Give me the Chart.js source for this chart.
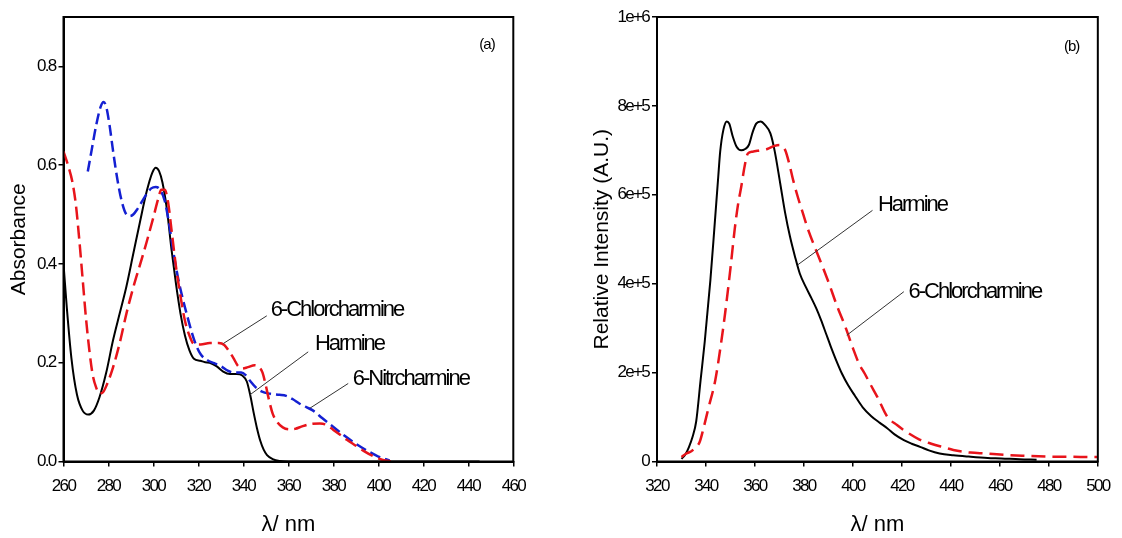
<!DOCTYPE html>
<html>
<head>
<meta charset="utf-8">
<script src="https://cdn.jsdelivr.net/npm/chart.js@4.4.1/dist/chart.umd.min.js"></script>
<style>
  html, body { margin: 0; padding: 0; background: #fff; }
  #wrap { position: relative; width: 1122px; height: 538px; overflow: hidden; }
  canvas { position: absolute; top: 0; }
  #absChart { left: 0; }
  #fluoChart { left: 561px; }
</style>
</head>
<body>
<div id="wrap">
  <canvas id="absChart" width="561" height="538"></canvas>
  <canvas id="fluoChart" width="561" height="538"></canvas>
</div>
<script>
// ---- (a) absorbance spectra ----
const harmineAbsNm = [260, 261.5, 263.5, 266, 268.5, 271, 273.5, 276, 279, 282, 285, 288, 291, 294, 297, 299.5, 301, 302.5, 304, 306, 308, 310, 312, 314, 316, 318, 320.8, 323, 325, 328, 331, 334, 337, 339.5, 341.5, 343, 344.5, 346, 347.5, 349, 350.5, 353, 356, 360, 400, 445];
const harmineAbs = [0.400, 0.310, 0.210, 0.135, 0.103, 0.095, 0.103, 0.130, 0.180, 0.245, 0.300, 0.355, 0.420, 0.485, 0.547, 0.585, 0.595, 0.588, 0.565, 0.510, 0.430, 0.360, 0.300, 0.255, 0.225, 0.208, 0.204, 0.201, 0.200, 0.193, 0.182, 0.177, 0.177, 0.174, 0.162, 0.135, 0.100, 0.068, 0.042, 0.024, 0.013, 0.005, 0.001, 0, 0, 0];

const chlorAbsNm = [260, 262, 264, 265.5, 267, 268.5, 270, 271.5, 273, 274.5, 276, 277.5, 279.5, 282, 285, 288, 291, 294, 297, 300, 302, 303.5, 305, 306.5, 308, 310, 312, 314, 316, 318, 321, 325, 329, 331.5, 333.5, 335.5, 337.5, 339.5, 342, 345, 347, 348.5, 350, 351.5, 353, 355, 357.5, 360.5, 363, 366, 370, 374, 377, 380, 383, 386, 390, 394, 398, 402, 406];
const chlorAbs = [0.628, 0.600, 0.565, 0.520, 0.450, 0.370, 0.290, 0.225, 0.175, 0.150, 0.138, 0.140, 0.158, 0.190, 0.240, 0.300, 0.352, 0.398, 0.445, 0.495, 0.530, 0.550, 0.550, 0.525, 0.470, 0.395, 0.335, 0.285, 0.255, 0.238, 0.237, 0.240, 0.240, 0.236, 0.224, 0.210, 0.194, 0.188, 0.191, 0.195, 0.191, 0.180, 0.153, 0.122, 0.097, 0.080, 0.069, 0.065, 0.066, 0.071, 0.076, 0.077, 0.074, 0.064, 0.054, 0.044, 0.032, 0.020, 0.010, 0.003, 0];

const nitroAbsNm = [270.8, 272.5, 274.5, 276.5, 277.8, 279, 280.5, 282, 284, 286, 288, 289.5, 291, 293, 295, 297, 299, 301, 303, 305, 307, 309, 311, 313, 315, 317, 319, 321, 324, 327, 330, 333, 336, 339, 341, 343, 345.5, 348, 352, 356, 359, 362, 365, 368, 371, 375, 380, 385, 390, 395, 400, 405];
const nitroAbs = [0.587, 0.630, 0.680, 0.718, 0.728, 0.718, 0.680, 0.630, 0.570, 0.525, 0.500, 0.497, 0.500, 0.512, 0.527, 0.542, 0.553, 0.556, 0.550, 0.528, 0.480, 0.420, 0.370, 0.330, 0.295, 0.262, 0.235, 0.217, 0.205, 0.199, 0.193, 0.184, 0.180, 0.180, 0.175, 0.163, 0.150, 0.142, 0.137, 0.135, 0.133, 0.126, 0.117, 0.110, 0.103, 0.088, 0.070, 0.052, 0.036, 0.022, 0.010, 0.002];

// ---- (b) emission spectra ----
const harmineEmNm = [330, 331.5, 333, 334.5, 336, 337.8, 339.5, 341.8, 343.5, 345, 345.8, 347.1, 348.5, 349.5, 351, 352.5, 354.4, 356, 357.5, 359, 360.5, 362.3, 364, 366.3, 368, 370.3, 372.3, 374.3, 376.3, 378.3, 381, 383, 385, 387, 389, 391, 393, 395.5, 398, 400.8, 404, 407.5, 411, 414, 417, 420.8, 424, 427.4, 431, 435.4, 441, 447.3, 455, 460.6, 468, 475];
const harmineEm = [6000, 15000, 32000, 55000, 90000, 183000, 270000, 408000, 530000, 640000, 697000, 746000, 765000, 760000, 730000, 708000, 700000, 703000, 712000, 740000, 760000, 765000, 758000, 738000, 700000, 626000, 560000, 506000, 462000, 423000, 390000, 368000, 345000, 318000, 288000, 258000, 230000, 198000, 172000, 148000, 122000, 102000, 87000, 75000, 61000, 48000, 40000, 33000, 25000, 18000, 14000, 11000, 8000, 7000, 5000, 4000];

const chlorEmNm = [330, 332, 334, 336, 337.5, 339, 341, 343.8, 346, 347.8, 350, 351.7, 353, 354.4, 355.8, 357.1, 359, 362, 365, 368, 370, 372.3, 374, 375.6, 377.5, 379.6, 382, 384.9, 387.5, 390.2, 393.5, 396.9, 400, 402.5, 404.8, 407, 410, 414, 418, 422, 427, 432, 437, 441, 448, 454, 462, 470, 480, 490, 500];
const chlorEm = [10000, 18000, 23000, 32000, 45000, 75000, 120000, 183000, 260000, 333000, 435000, 521000, 575000, 618000, 665000, 693000, 697000, 700000, 703000, 710000, 712000, 701000, 670000, 633000, 595000, 558000, 517000, 476000, 440000, 401000, 350000, 303000, 255000, 220000, 198000, 175000, 145000, 101000, 82000, 66000, 50000, 40000, 32000, 26000, 20000, 18000, 15000, 13000, 11000, 10500, 10000];

// labels with leader lines, anchored in data units
const absNotes = [
  { text: '6-Chlorcharmine', at: [352.1, 0.307], from: [350.4, 0.295], to: [331.1, 0.239] },
  { text: 'Harmine', at: [371.8, 0.238], from: [368.8, 0.222], to: [342.9, 0.135] },
  { text: '6-Nitrcharmine', at: [388.6, 0.167], from: [386.6, 0.158], to: [369.6, 0.108] },
  { text: '(a)', at: [448.3, 0.843], small: true }
];
const fluoNotes = [
  { text: 'Harmine', at: [410.2, 578000], from: [408.0, 565000], to: [377.6, 443000] },
  { text: '6-Chlorcharmine', at: [422.7, 382000], from: [420.8, 382000], to: [397.5, 284000] },
  { text: '(b)', at: [489.3, 932000], small: true }
];

const sans = "'Liberation Sans', Arial, sans-serif";

function pts(xs, ys) {
  return xs.map((x, i) => ({ x: x, y: ys[i] }));
}

// tick labels are drawn after the datasets (ticks.z = 1); squeeze them like the original
const squeezePlugin = {
  id: 'squeeze',
  afterDatasetsDraw(chart) {
    chart.ctx.letterSpacing = '-1.7px';
  },
  afterDraw(chart) {
    chart.ctx.letterSpacing = '0px';
  }
};

// box around the plot area
const framePlugin = {
  id: 'frame',
  afterDraw(chart) {
    const { ctx, chartArea: a } = chart;
    ctx.save();
    ctx.strokeStyle = '#000';
    ctx.lineWidth = 2;
    ctx.strokeRect(a.left, a.top, a.right - a.left, a.bottom - a.top);
    ctx.restore();
  }
};

// text labels + thin leader lines
const notesPlugin = {
  id: 'notes',
  afterDraw(chart, args, opts) {
    const { ctx } = chart;
    const xs = chart.scales.x, ys = chart.scales.y;
    ctx.save();
    (opts.items || []).forEach(n => {
      if (n.from) {
        ctx.strokeStyle = '#333';
        ctx.lineWidth = 1;
        ctx.beginPath();
        ctx.moveTo(xs.getPixelForValue(n.from[0]), ys.getPixelForValue(n.from[1]));
        ctx.lineTo(xs.getPixelForValue(n.to[0]), ys.getPixelForValue(n.to[1]));
        ctx.stroke();
      }
      ctx.fillStyle = '#000';
      ctx.textBaseline = 'middle';
      ctx.textAlign = n.small ? 'center' : 'left';
      ctx.font = (n.small ? '15px ' : '22px ') + sans;
      ctx.letterSpacing = n.small ? '-1px' : '-2px';
      ctx.fillText(n.text, xs.getPixelForValue(n.at[0]), ys.getPixelForValue(n.at[1]));
    });
    ctx.letterSpacing = '0px';
    ctx.restore();
  }
};

function makeChart(id, cfg) {
  return new Chart(document.getElementById(id), {
    type: 'line',
    data: { datasets: cfg.datasets },
    plugins: [squeezePlugin, framePlugin, notesPlugin],
    options: {
      responsive: false,
      animation: false,
      devicePixelRatio: 1,
      layout: { padding: { left: 0, right: cfg.padRight, top: 17, bottom: 0 } },
      elements: { point: { radius: 0 }, line: { borderJoinStyle: 'round' } },
      plugins: {
        legend: { display: false },
        tooltip: { enabled: false },
        notes: { items: cfg.notes }
      },
      scales: {
        x: {
          type: 'linear',
          min: cfg.xMin,
          max: cfg.xMax,
          afterFit: s => { s.height = 76.5; },
          ticks: { stepSize: 20, color: '#000', padding: 10, maxRotation: 0, autoSkip: false, includeBounds: false,
                   z: 1, font: { family: sans, size: 17 } },
          grid: { drawOnChartArea: false, drawTicks: true, tickLength: 5, color: '#000', lineWidth: 1.5 },
          border: { display: true, color: '#000', width: 2 },
          title: { display: true, text: 'λ/ nm', color: '#000', font: { family: sans, size: 22 },
                   padding: { top: 0, bottom: 0 } }
        },
        y: {
          min: 0,
          max: cfg.yMax,
          afterFit: s => { s.width = cfg.yWidth; },
          ticks: { stepSize: cfg.yStep, color: '#000', padding: 3, includeBounds: false,
                   z: 1, font: { family: sans, size: 17 }, callback: cfg.yFmt },
          grid: { drawOnChartArea: false, drawTicks: true, tickLength: 5, color: '#000', lineWidth: 1.5 },
          border: { display: true, color: '#000', width: 2 },
          title: { display: true, text: cfg.yTitle, color: '#000', font: { family: sans, size: 21 },
                   padding: { top: cfg.yTitlePad, bottom: 0 } }
        }
      }
    }
  });
}

makeChart('absChart', {
  xMin: 260, xMax: 460, yMax: 0.9, yStep: 0.2,
  yWidth: 63.5, padRight: 47.7, yTitlePad: 6.5,
  yTitle: 'Absorbance',
  yFmt: v => v.toFixed(1),
  notes: absNotes,
  datasets: [
    { label: '6-Chlorcharmine', data: pts(chlorAbsNm, chlorAbs), borderColor: '#e8141b', borderWidth: 2.5,
      borderDash: [13, 6], cubicInterpolationMode: 'monotone' },
    { label: '6-Nitrcharmine', data: pts(nitroAbsNm, nitroAbs), borderColor: '#1420d2', borderWidth: 2.5,
      borderDash: [11, 5], cubicInterpolationMode: 'monotone' },
    { label: 'Harmine', data: pts(harmineAbsNm, harmineAbs), borderColor: '#000', borderWidth: 2,
      cubicInterpolationMode: 'monotone' }
  ]
});

makeChart('fluoChart', {
  xMin: 320, xMax: 500, yMax: 1000000, yStep: 200000,
  yWidth: 96, padRight: 13, yTitlePad: 29,
  yTitle: 'Relative Intensity (A.U.)',
  yFmt: v => (v === 0 ? '0' : v.toExponential(0)),
  notes: fluoNotes,
  datasets: [
    { label: '6-Chlorcharmine', data: pts(chlorEmNm, chlorEm), borderColor: '#e8141b', borderWidth: 2.5,
      borderDash: [14, 7], cubicInterpolationMode: 'monotone' },
    { label: 'Harmine', data: pts(harmineEmNm, harmineEm), borderColor: '#000', borderWidth: 2,
      cubicInterpolationMode: 'monotone' }
  ]
});
</script>
</body>
</html>
